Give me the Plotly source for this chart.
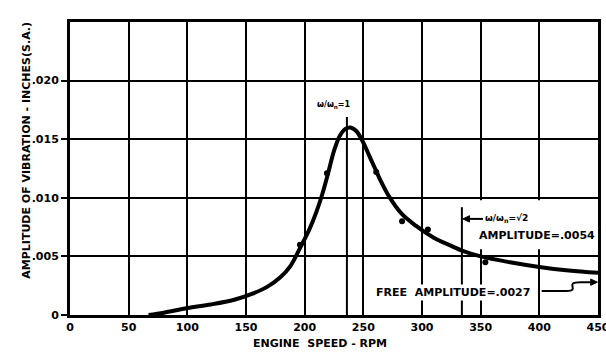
import plotly.graph_objects as go

# ---- data ----
curve_rpm = [67, 80, 100, 120, 140, 155, 168, 179, 188, 196, 204, 210, 215, 220, 225, 230,
             235, 239, 244, 250, 255, 260, 265, 272, 283, 295, 310, 325, 334, 350, 375,
             400, 425, 450]
curve_amp = [0.0, 0.0002, 0.0006, 0.0009, 0.0013, 0.0018, 0.0024, 0.0032, 0.0042, 0.0057,
             0.0073, 0.0088, 0.0103, 0.0121, 0.0140, 0.0153, 0.0159, 0.0160, 0.0157,
             0.0147, 0.0136, 0.0125, 0.0114, 0.0101, 0.0086, 0.0076, 0.0066, 0.0059,
             0.0055, 0.0050, 0.0045, 0.0041, 0.0038, 0.0036]

point_rpm = [196, 219, 261, 283, 305, 354]
point_amp = [0.0060, 0.0121, 0.0122, 0.0080, 0.0073, 0.0045]

x_ticks = [0, 50, 100, 150, 200, 250, 300, 350, 400, 450]
x_ticklabels = ["0", "50", "100", "150", "200", "250", "300", "350", "400", "450"]
y_ticks = [0, 0.005, 0.010, 0.015, 0.020]
y_ticklabels = ["0", ".005", ".010", ".015", ".020"]

resonance_rpm = 236
sqrt2_rpm = 334

FONT = "DejaVu Sans"
INK = "#000000"

fig = go.Figure()
fig.add_trace(go.Scatter(x=curve_rpm, y=curve_amp, mode="lines",
                         line=dict(color=INK, width=4, shape="spline", smoothing=1.0),
                         hoverinfo="skip", showlegend=False))
fig.add_trace(go.Scatter(x=point_rpm, y=point_amp, mode="markers",
                         marker=dict(color=INK, size=6),
                         hoverinfo="skip", showlegend=False))

shapes = [
    # white box hiding the grid behind the amplitude note
    dict(type="rect", xref="x", yref="y", x0=341, x1=447, y0=0.0056, y1=0.0098,
         fillcolor="white", line=dict(width=0), layer="above"),
    dict(type="line", xref="x", yref="y", x0=resonance_rpm, x1=resonance_rpm, y0=0, y1=0.0169,
         line=dict(color=INK, width=2)),
    dict(type="line", xref="x", yref="y", x0=sqrt2_rpm, x1=sqrt2_rpm, y0=0, y1=0.0092,
         line=dict(color=INK, width=2), layer="above"),
    # arrow to the sqrt(2) line
    dict(type="line", xref="x", yref="y", x0=338, x1=352, y0=0.0082, y1=0.0082,
         line=dict(color=INK, width=2), layer="above"),
    dict(type="path", xref="x", yref="y",
         path="M 334.8,0.0082 L 340.5,0.00847 L 340.5,0.00793 Z",
         fillcolor=INK, line=dict(color=INK, width=1), layer="above"),
    # squiggle leader of the free amplitude note
    dict(type="path", xref="x", yref="y",
         path="M 402,0.00205 L 423,0.00205 C 436,0.00205 420,0.0028 435,0.0028 L 444,0.0028",
         line=dict(color=INK, width=2), layer="above"),
    dict(type="path", xref="x", yref="y",
         path="M 449.5,0.0028 L 443.8,0.00307 L 443.8,0.00253 Z",
         fillcolor=INK, line=dict(color=INK, width=1), layer="above"),
]

annotations = [
    dict(x=225, y=0.0179, xref="x", yref="y", text="<b>ω/ω<sub>n</sub>=1</b>", showarrow=False,
         font=dict(family=FONT, size=8, color=INK)),
    dict(x=352, y=0.0082, xref="x", yref="y", xanchor="left", text="<b>ω/ω<sub>n</sub>=√2</b>",
         showarrow=False, font=dict(family=FONT, size=9, color=INK)),
    dict(x=347, y=0.0068, xref="x", yref="y", xanchor="left", text="<b>AMPLITUDE=.0054</b>",
         showarrow=False, font=dict(family=FONT, size=11, color=INK)),
    dict(x=259, y=0.0019, xref="x", yref="y", xanchor="left",
         text="<b>FREE  AMPLITUDE=.0027</b>", showarrow=False, bgcolor="white",
         font=dict(family=FONT, size=11, color=INK)),
    dict(x=0.473, y=-0.126, xref="paper", yref="paper", text="<b>ENGINE  SPEED - RPM</b>",
         showarrow=False, font=dict(family=FONT, size=11, color=INK)),
    dict(x=-0.1, y=0.563, xref="paper", yref="paper", textangle=-90,
         text="<b>AMPLITUDE OF VIBRATION - INCHES(S.A.)</b>",
         showarrow=False, font=dict(family=FONT, size=11, color=INK)),
]

fig.update_layout(
    width=606, height=364,
    margin=dict(l=70, r=8, t=22, b=49, autoexpand=False),
    paper_bgcolor="white", plot_bgcolor="white",
    shapes=shapes, annotations=annotations,
    font=dict(family=FONT, size=11, color=INK),
)
fig.update_xaxes(range=[0, 450], tickvals=x_ticks, ticktext=x_ticklabels,
                 showgrid=True, gridcolor=INK, gridwidth=2, zeroline=False,
                 showline=True, linecolor=INK, linewidth=3, mirror=True,
                 ticks="", ticklabeloverflow="allow", automargin=False,
                 tickfont=dict(family=FONT, size=11, color=INK, weight="bold"))
fig.update_yaxes(range=[0, 0.025], tickvals=y_ticks, ticktext=y_ticklabels,
                 showgrid=True, gridcolor=INK, gridwidth=2, zeroline=False,
                 showline=True, linecolor=INK, linewidth=3, mirror=True,
                 ticks="outside", ticklen=6, tickwidth=2, tickcolor=INK, automargin=False,
                 tickfont=dict(family=FONT, size=11, color=INK, weight="bold"))

fig.write_html("out.html")
